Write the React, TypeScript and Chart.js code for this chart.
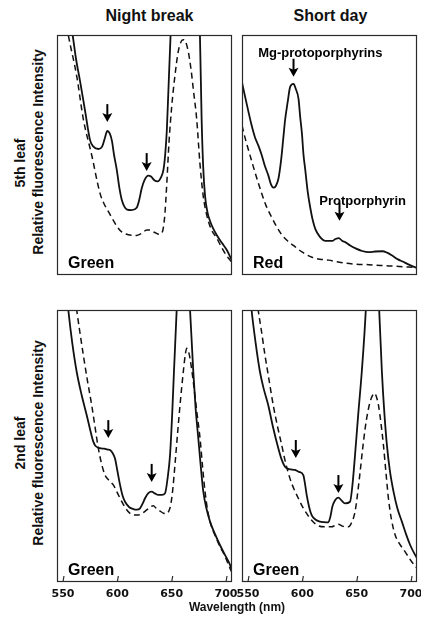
import React, { useEffect, useRef } from "react";
import { Chart, registerables } from "chart.js";

Chart.register(...registerables);

// ---------- data ----------
const X_MIN = 544.5;
const X_MAX = 705.5;
const X_TICKS = [550, 600, 650, 700];

const COL_TITLES = ["Night break", "Short day"];
const ROW_LEAVES = ["5th leaf", "2nd leaf"];
const Y_TITLE = "Relative fluorescence Intensity";
const X_TITLE = "Wavelength (nm)";

// Night break, 5th leaf (Green)
const nb5SolidWl = [555, 558.9, 562, 565.7, 570.3, 574.9, 578, 582.5, 586, 588.5, 590.8, 593, 595, 597, 599.5, 602, 604, 606.5, 609, 613, 617.8, 620, 622.4, 625, 628.5, 631, 634, 637, 640.5, 642.5, 644, 645.5, 647, 649, 651, 660, 668, 674, 676, 677.5, 679, 680.7, 683, 685.3, 688, 691.4, 696, 700.6, 705.5];
const nb5SolidVal = [111, 100, 90, 80.8, 68.5, 56.2, 53.5, 52.5, 53.5, 57, 60, 59, 56, 50, 43.8, 36, 31.5, 28.5, 27.2, 27, 28, 31, 36, 39.5, 41.4, 41, 39.5, 39, 41, 44, 50, 60, 77, 100, 120, 150, 150, 120, 100, 66, 45, 33, 26, 22.5, 19.5, 16.7, 13.5, 10.5, 6];
const nb5DashWl = [552, 554.9, 562.6, 568.7, 576.4, 584.1, 588, 591.7, 596.3, 600, 604, 610, 617.8, 623, 627, 630, 634, 638, 641, 643.5, 645.5, 647.5, 650, 653, 656, 659, 660.7, 662.5, 665.3, 668, 670, 673, 676, 679, 682, 686, 691.4, 696, 700.6, 703.7, 705.5];
const nb5DashVal = [108, 100, 83, 65, 50, 34, 29.5, 26.5, 22.8, 20, 18, 16.8, 16.5, 17.5, 18.8, 18.8, 17.8, 17, 17.5, 24, 38, 55, 70, 83, 93, 97.5, 98, 97.5, 93, 85, 77, 65, 46.5, 33, 25.5, 19.5, 15.4, 11.5, 8, 6.2, 5];
const nb5Arrows = [[590.8, 63.7], [627, 43.3]];

// Short day, 5th leaf (Red)
const sd5SolidWl = [544.5, 547, 550.2, 553, 556.4, 559.5, 562.6, 565.5, 568.8, 571, 573.4, 575.5, 578, 580.5, 582.5, 584.2, 586.5, 588.8, 591.9, 594, 596.5, 598, 599.7, 601, 602.7, 605, 607.4, 609.5, 612, 616, 621.3, 627.5, 630.5, 633.6, 636.5, 639.8, 644, 649, 655, 661.3, 667, 673.8, 678, 683, 688, 692.3, 698, 704.6, 706];
const sd5SolidVal = [80.2, 75, 68.5, 63, 57.4, 54, 50, 45.5, 41.4, 38, 36.4, 37, 40.1, 48, 57, 64.8, 72, 78.4, 79.6, 77.5, 73.4, 66, 58.6, 50.5, 43.8, 34.5, 27.8, 23, 19.1, 16, 14.2, 14.2, 15, 15.4, 14.3, 13.6, 12.3, 11.1, 10, 9.5, 9.8, 9.9, 9.3, 8, 6.5, 5.6, 4.3, 3.1, 2.9];
const sd5DashWl = [544.5, 548, 553.4, 558, 562.6, 567, 571.9, 576.5, 581.2, 587, 593.5, 600, 608.9, 616, 624.3, 632, 639.8, 650, 661.3, 672, 683, 694, 704.6, 706];
const sd5DashVal = [62.3, 56, 47.5, 40.5, 34, 28.5, 24, 20, 16.7, 14, 11.7, 9.5, 7.4, 6.6, 6.2, 5.5, 4.9, 4.5, 4.3, 4, 3.7, 3.4, 3.1, 3];
const sd5Arrows = [[591.9, 82.6], [634.2, 22.6]];
const sd5Notes: [string, number, number][] = [["Mg-protoporphyrins", 616.6, 92.2], ["Protporphyrin", 655.5, 30.7]];

// Night break, 2nd leaf (Green)
const nb2SolidWl = [552, 554.9, 558.5, 562.6, 567, 571.8, 575, 577.9, 580, 584, 588, 591, 593.3, 595.5, 597.8, 600, 602.5, 605, 607.1, 611, 614.7, 618, 620.9, 623.5, 625.5, 628.5, 631.6, 634.5, 637.7, 641, 643.9, 646.2, 648.5, 650.5, 652.1, 654.6, 657, 661, 664, 666.9, 669.9, 672, 674.5, 677, 679.1, 682, 685.3, 690, 694.4, 699, 703.7, 705.5];
const nb2SolidVal = [112, 100, 88, 77.3, 69, 61.4, 56, 51.6, 50, 49.2, 49, 48.7, 48.5, 47.5, 45.5, 41, 35.7, 31.5, 29.5, 27.5, 26.8, 26.6, 27.1, 29, 30.8, 32.7, 33.2, 32.6, 32, 32, 32.6, 38, 46.7, 62, 77.3, 100, 125, 140, 125, 100, 77.3, 64, 52.8, 41.5, 33.2, 27, 22.2, 17.5, 13.6, 10, 6.3, 3.8];
const nb2DashWl = [560, 562.6, 565.5, 568.7, 572.5, 576.4, 579.5, 582.5, 585.5, 588.7, 592.5, 596.3, 599.5, 602.5, 607, 611.7, 615.5, 619.3, 623, 627, 630, 633.1, 636, 639.3, 642.5, 645.4, 647.5, 649.1, 651, 653, 655.5, 657.7, 660.7, 662.5, 663.8, 665.3, 666.9, 669.9, 673, 676.1, 678.5, 680.7, 683, 685.3, 690, 694.5, 699, 703.7, 705.5];
const nb2DashVal = [108, 100, 92, 83.5, 74, 65.1, 57, 49.2, 43.5, 39.3, 37.3, 35.7, 33.2, 30.8, 27.5, 25.2, 24.6, 24.6, 25.3, 26.5, 27.5, 28, 27, 26.1, 25.3, 25.2, 26.2, 28.3, 34, 43, 55, 65.1, 77.3, 83.5, 85.9, 85, 82.2, 73.6, 63, 52.8, 42, 33.2, 26.5, 22.2, 17, 13, 9.5, 5, 3.5];
const nb2Arrows = [[591.7, 52.9], [631.6, 36.8]];

// Short day, 2nd leaf (Green)
const sd2SolidWl = [551, 553.3, 557, 561, 564.5, 568.6, 573, 577.9, 581, 584, 588, 593.2, 597, 600.9, 602.5, 604, 606.3, 608.6, 612, 616.3, 620, 623.9, 625.8, 627.6, 630, 633.2, 636, 639.3, 643.9, 646.2, 648.5, 651.5, 654.7, 658.4, 661, 665, 668.5, 670.7, 673.2, 675.5, 677.8, 680.5, 683.9, 687.5, 691.6, 695.5, 699.2, 703, 705.7];
const sd2SolidVal = [110, 100, 88, 77.3, 71, 65.1, 57, 49.2, 45, 42.4, 41.5, 41.2, 40.5, 39.3, 36, 32, 27.5, 24.6, 23, 22.2, 22, 21.9, 24, 27.7, 30, 31, 30, 28.9, 29.5, 36, 46.7, 62, 77.3, 100, 125, 140, 125, 100, 77.3, 62, 50.4, 41, 33.2, 27, 22.2, 17.5, 13.6, 10.5, 8.7];
const sd2DashWl = [557, 559.4, 562.5, 565.6, 569.5, 573.2, 577, 581, 584.5, 588.6, 592.5, 596.3, 600, 604, 609, 614.7, 620, 627.1, 630, 633.2, 636.5, 639.5, 642.4, 645.5, 648.5, 651, 653.2, 655.5, 657.8, 660, 662.4, 664.5, 666.3, 668, 670, 672.3, 674.6, 677, 679.2, 682, 685.4, 689.5, 694.6, 700, 705.7];
const sd2DashVal = [108, 100, 92, 83.5, 74, 65.1, 57.5, 50.4, 44, 38.1, 34, 30.8, 27.8, 25.2, 22.5, 20.7, 20.3, 20.3, 20.8, 21.2, 20.6, 20.3, 20.3, 22, 25.8, 33, 40.6, 49, 56.5, 62, 66.3, 68.5, 69.4, 68.3, 65.1, 58.5, 50.4, 40, 30.8, 23, 17.3, 14, 11.1, 7.8, 5];
const sd2Arrows = [[594, 45.6], [633.2, 32.7]];

// ---------- layout constants ----------
const FONT = "'Liberation Sans', Arial, Helvetica, sans-serif";
const MX = 16;
const MT = 4;
const AXIS_H = 30;

type PanelProps = {
  left: number; top: number; width: number; height: number;
  solidWl: number[]; solidVal: number[]; dashWl: number[]; dashVal: number[];
  label: string; arrows: number[][]; notes?: [string, number, number][]; showX: boolean;
};

function Panel(p: PanelProps) {
  const ref = useRef<HTMLCanvasElement | null>(null);
  const cw = p.width + 2 * MX;
  const ch = p.height + MT + (p.showX ? AXIS_H : MT);
  useEffect(() => {
    if (!ref.current) return;
    const deco = {
      id: "panelDeco",
      afterDraw(chart: any) {
        const { ctx, chartArea } = chart;
        const xs = chart.scales.x;
        const ys = chart.scales.y;
        const { left, top, right, bottom } = chartArea;
        ctx.save();
        // frame
        ctx.strokeStyle = "#2a2a2a";
        ctx.lineWidth = 1.2;
        ctx.setLineDash([]);
        ctx.strokeRect(left + 0.5, top + 0.5, right - left - 1, bottom - top - 1);
        // inner tick marks
        if (p.showX) {
          ctx.lineWidth = 1.2;
          X_TICKS.forEach((v) => {
            const px = xs.getPixelForValue(v);
            ctx.beginPath();
            ctx.moveTo(px, bottom);
            ctx.lineTo(px + 1, bottom - 6);
            ctx.stroke();
          });
        }
        // arrows
        ctx.fillStyle = "#000";
        ctx.strokeStyle = "#000";
        p.arrows.forEach(([wl, v]) => {
          const px = xs.getPixelForValue(wl);
          const py = ys.getPixelForValue(v);
          ctx.lineWidth = 2;
          ctx.beginPath();
          ctx.moveTo(px, py - 18);
          ctx.lineTo(px, py - 6);
          ctx.stroke();
          ctx.beginPath();
          ctx.moveTo(px, py);
          ctx.lineTo(px - 5, py - 9);
          ctx.lineTo(px, py - 7);
          ctx.lineTo(px + 5, py - 9);
          ctx.closePath();
          ctx.fill();
        });
        // notes
        if (p.notes) {
          ctx.font = `bold 13px ${FONT}`;
          ctx.textAlign = "center";
          ctx.textBaseline = "middle";
          p.notes.forEach(([t, wl, v]) => {
            ctx.fillText(t, xs.getPixelForValue(wl), ys.getPixelForValue(v));
          });
        }
        // panel label
        ctx.font = `bold 16px ${FONT}`;
        ctx.textAlign = "left";
        ctx.textBaseline = "alphabetic";
        ctx.fillText(p.label, left + 11, bottom - 7);
        ctx.restore();
      },
    };
    const chart = new Chart(ref.current, {
      type: "line",
      data: {
        datasets: [
          {
            data: p.solidWl.map((x, i) => ({ x, y: p.solidVal[i] })),
            borderColor: "#111",
            borderWidth: 1.8,
            pointRadius: 0,
            fill: false,
            cubicInterpolationMode: "monotone",
          },
          {
            data: p.dashWl.map((x, i) => ({ x, y: p.dashVal[i] })),
            borderColor: "#111",
            borderWidth: 1.5,
            borderDash: [6, 4],
            pointRadius: 0,
            fill: false,
            cubicInterpolationMode: "monotone",
          },
        ],
      },
      options: {
        animation: false,
        responsive: false,
        maintainAspectRatio: false,
        events: [],
        layout: { padding: { left: MX, right: MX, top: MT, bottom: p.showX ? 0 : MT } },
        plugins: { legend: { display: false }, tooltip: { enabled: false } },
        scales: {
          x: {
            type: "linear",
            min: X_MIN,
            max: X_MAX,
            display: p.showX,
            grid: { display: false, drawTicks: false },
            border: { display: false },
            ticks: {
              color: "#111",
              padding: 6,
              maxRotation: 0,
              autoSkip: false,
              font: { family: "'DejaVu Sans', sans-serif", size: 11, weight: "bold" },
            },
            afterBuildTicks: (s: any) => {
              s.ticks = X_TICKS.map((v) => ({ value: v }));
            },
            afterFit: (s: any) => {
              s.height = AXIS_H;
              s.paddingLeft = 0;
              s.paddingRight = 0;
            },
          },
          y: { type: "linear", min: 0, max: 100, display: false },
        },
      } as any,
      plugins: [deco as any],
    });
    return () => chart.destroy();
  }, []);
  return (
    <canvas
      ref={ref}
      width={cw}
      height={ch}
      style={{ position: "absolute", left: p.left - MX, top: p.top - MT, width: cw, height: ch }}
    />
  );
}

function YLabel({ text, cx, cy, size }: { text: string; cx: number; cy: number; size: number }) {
  const W = 300;
  const H = 18;
  return (
    <div
      style={{
        position: "absolute",
        left: cx - W / 2,
        top: cy - H / 2,
        width: W,
        height: H,
        lineHeight: `${H}px`,
        textAlign: "center",
        fontFamily: FONT,
        fontWeight: "bold",
        fontSize: size,
        color: "#111",
        transform: "rotate(-90deg)",
        transformOrigin: "50% 50%",
        whiteSpace: "nowrap",
      }}
    >
      {text}
    </div>
  );
}

export default function App() {
  const titleStyle: React.CSSProperties = {
    position: "absolute",
    top: 8,
    width: 175,
    height: 16,
    lineHeight: "16px",
    textAlign: "center",
    fontFamily: FONT,
    fontWeight: "bold",
    fontSize: 16,
    color: "#111",
    whiteSpace: "nowrap",
  };
  return (
    <div
      style={{
        position: "absolute",
        left: 0,
        top: 0,
        width: 421,
        height: 623,
        overflow: "hidden",
        background: "#fff",
      }}
    >
      <div style={{ ...titleStyle, left: 62 }}>{COL_TITLES[0]}</div>
      <div style={{ ...titleStyle, left: 243 }}>{COL_TITLES[1]}</div>

      <YLabel text={ROW_LEAVES[0]} cx={20} cy={163} size={14} />
      <YLabel text={Y_TITLE} cx={38} cy={152} size={14} />
      <YLabel text={ROW_LEAVES[1]} cx={20} cy={443} size={14} />
      <YLabel text={Y_TITLE} cx={38} cy={443} size={14} />

      <Panel left={57} top={35} width={175} height={270} solidWl={nb5SolidWl} solidVal={nb5SolidVal} dashWl={nb5DashWl} dashVal={nb5DashVal} label="Green" arrows={nb5Arrows} showX={false} />
      <Panel left={242} top={35} width={175} height={270} solidWl={sd5SolidWl} solidVal={sd5SolidVal} dashWl={sd5DashWl} dashVal={sd5DashVal} label="Red" arrows={sd5Arrows} notes={sd5Notes} showX={false} />
      <Panel left={57} top={310} width={175} height={272} solidWl={nb2SolidWl} solidVal={nb2SolidVal} dashWl={nb2DashWl} dashVal={nb2DashVal} label="Green" arrows={nb2Arrows} showX={true} />
      <Panel left={242} top={310} width={175} height={272} solidWl={sd2SolidWl} solidVal={sd2SolidVal} dashWl={sd2DashWl} dashVal={sd2DashVal} label="Green" arrows={sd2Arrows} showX={true} />

      <div
        style={{
          position: "absolute",
          left: 137,
          top: 600,
          width: 200,
          textAlign: "center",
          fontFamily: FONT,
          fontWeight: "bold",
          fontSize: 12,
          lineHeight: "14px",
          color: "#111",
        }}
      >
        {X_TITLE}
      </div>
    </div>
  );
}
